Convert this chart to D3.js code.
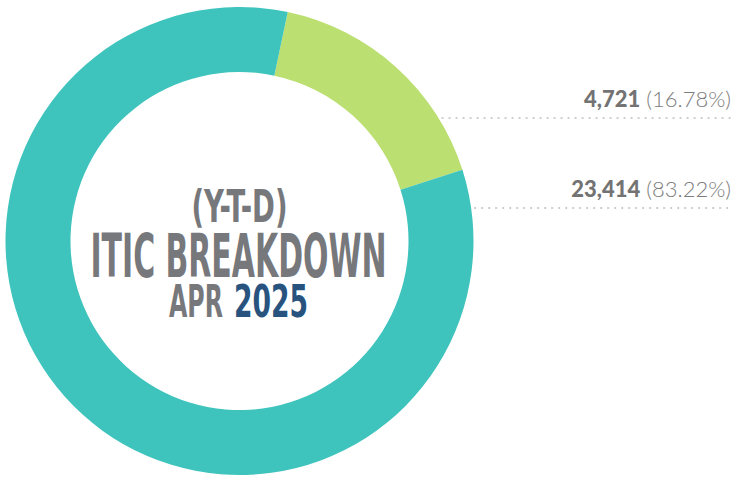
<!DOCTYPE html>
<html>
<head>
<meta charset="utf-8">
<script src="https://cdn.jsdelivr.net/npm/d3@7"></script>
<style>
  body { margin: 0; background: #fff; }
  svg { display: block; }
</style>
</head>
<body>
<div id="chart"></div>
<script>
// data
var categories = ["Green", "Teal"];
var values = [4721, 23414];
var colors = ["#bbdf71", "#3fc4bd"];
var labelY = [107, 197];     // baseline of each side label
var leaderY = [118, 208];    // dotted line under each label
var titleLines = ["(Y-T-D)", "ITIC BREAKDOWN"];
var monthLabel = "APR";
var yearLabel = "2025";

var width = 732, height = 477;
var cx = 239.5, cy = 241,
    outerR = 234, innerR = 169;

var svg = d3.select("#chart")
  .append("svg")
    .attr("width", width)
    .attr("height", height);

var total = d3.sum(values);
var greenSpan = values[0] / total * 2 * Math.PI;
var greenMid = 42.1 * Math.PI / 180;
var start = greenMid - greenSpan / 2;

var pie = d3.pie()
  .sort(null)
  .startAngle(start)
  .endAngle(start + 2 * Math.PI)
  .value(function(d) { return d; });

var arc = d3.arc()
  .innerRadius(innerR)
  .outerRadius(outerR);

var g = svg.append("g")
  .attr("transform", "translate(" + cx + "," + cy + ")");

g.selectAll("path")
  .data(pie(values))
  .enter()
  .append("path")
    .attr("d", arc)
    .style("fill", function(d, i) { return colors[i]; });

// side labels
var fmtNum = d3.format(",");
var fmtPct = d3.format(".2%");

values.forEach(function(v, i) {
  var t = svg.append("text")
    .attr("x", 731)
    .attr("y", labelY[i])
    .attr("text-anchor", "end")
    .style("font-family", "Lato, 'Open Sans', sans-serif")
    .style("font-size", "22px");
  t.append("tspan")
    .style("font-weight", 900)
    .style("fill", "#737373")
    .text(fmtNum(v));
  t.append("tspan")
    .style("font-weight", 300)
    .style("fill", "#7d7d7d")
    .text(" (" + fmtPct(v / total) + ")");

  // dotted leader line, starts just outside the ring
  var dy = leaderY[i] - cy;
  var x0 = cx + Math.sqrt(outerR * outerR - dy * dy) + 3;
  svg.append("line")
    .attr("x1", x0)
    .attr("x2", width)
    .attr("y1", leaderY[i])
    .attr("y2", leaderY[i])
    .style("stroke", "#cfcfcf")
    .style("stroke-width", 2)
    .style("stroke-dasharray", "2,5");
});

// centre title, condensed look via textLength
var cond = "'Liberation Sans Narrow', 'DejaVu Sans Condensed', sans-serif";

function condText(txt, x, y, size, len, color, anchor) {
  return svg.append("text")
    .attr("x", x)
    .attr("y", y)
    .attr("text-anchor", anchor || "middle")
    .attr("textLength", len)
    .attr("lengthAdjust", "spacingAndGlyphs")
    .style("font-family", cond)
    .style("font-weight", "bold")
    .style("font-size", size + "px")
    .style("fill", color)
    .text(txt);
}

condText(titleLines[0], 239.5, 221.5, 44, 96, "#77787b");
condText(titleLines[1], 238.5, 276.5, 60, 296, "#77787b");
condText(monthLabel, 169, 316.5, 44, 54, "#77787b", "start");
condText(yearLabel, 234, 316.5, 44, 74, "#29537f", "start");
</script>
</body>
</html>
